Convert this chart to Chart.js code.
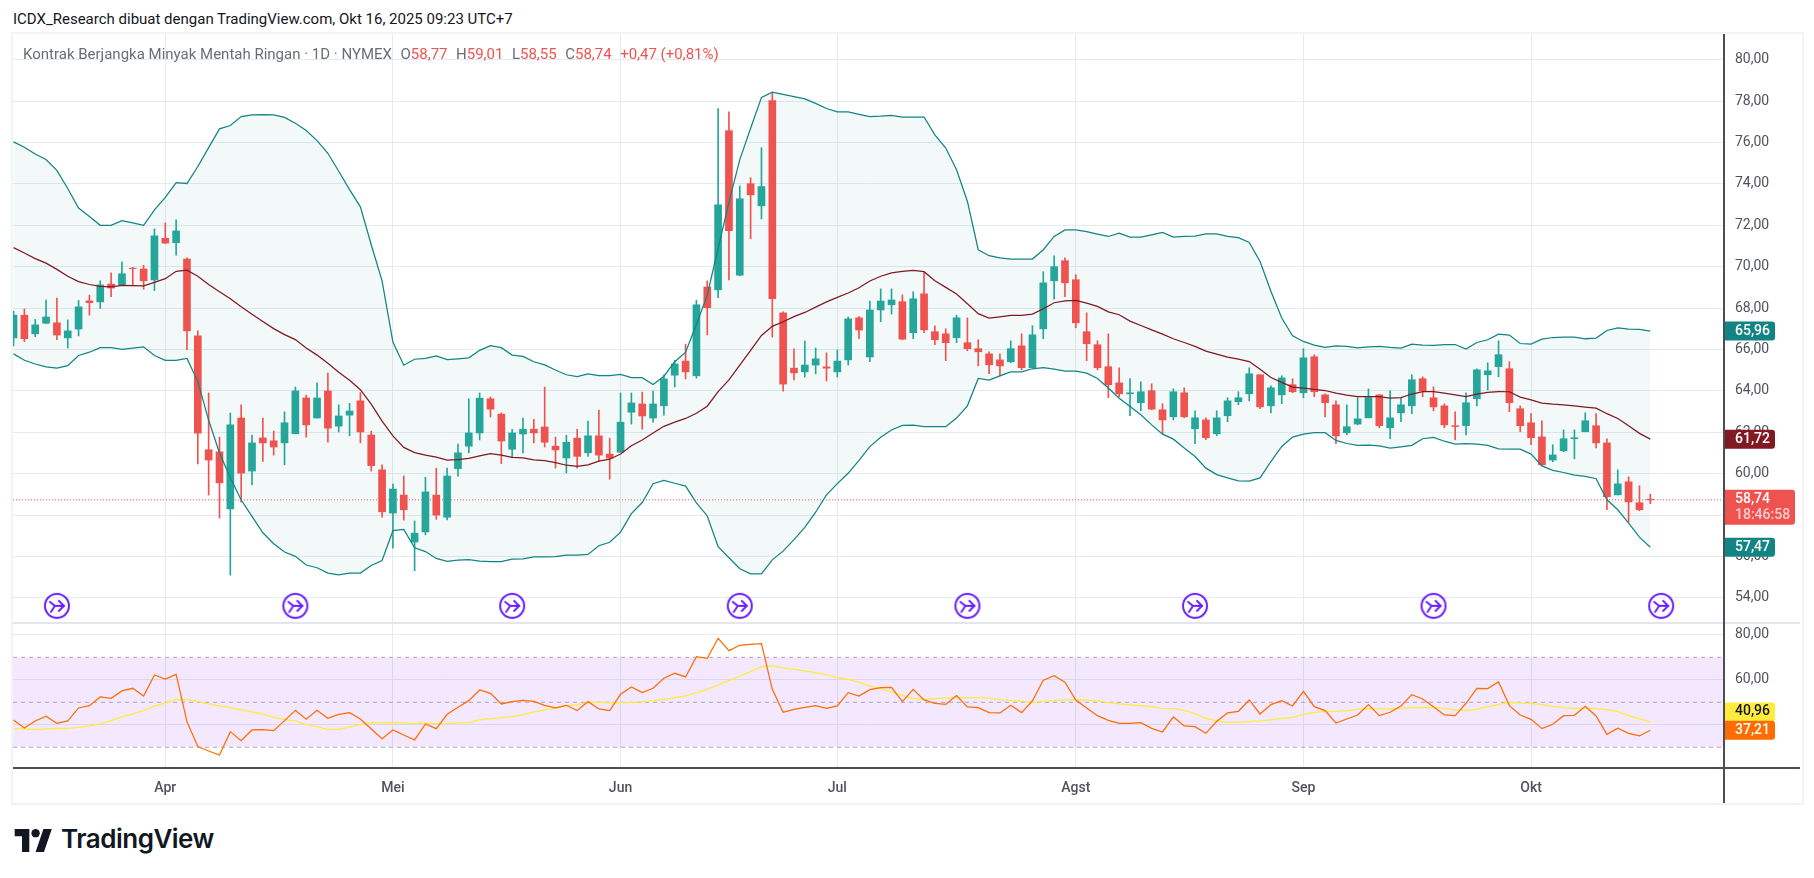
<!DOCTYPE html>
<html lang="id">
<head>
<meta charset="utf-8">
<title>Kontrak Berjangka Minyak Mentah Ringan</title>
<script src="https://cdn.jsdelivr.net/npm/chart.js@4/dist/chart.umd.min.js"></script>
<style>
  html, body { margin: 0; padding: 0; background: #fff; overflow: hidden; font-family: Roboto, sans-serif; }
  #page { position: relative; width: 1814px; height: 878px; }
  canvas { position: absolute; left: 13px; }
  #frame { position: absolute; left: 11px; top: 32px; width: 1789px; height: 769px; border: 2px solid #f1f3f6; }
  .rule { position: absolute; }
  #title { position: absolute; left: 13px; top: 10px; font-size: 15px; color: #131722; white-space: nowrap; }
  #legend { position: absolute; left: 23px; top: 45px; font-size: 15px; color: #6a6d78; white-space: nowrap; }
  #legend b { font-weight: 400; color: #ef5350; }
  #legend span { margin-left: 8.5px; }
  #logo { position: absolute; left: 14px; top: 829px; width: 39px; height: 23px; }
  #logoText { position: absolute; left: 61px; top: 823px; font: 600 26px Inter, sans-serif; letter-spacing: -0.5px; color: #131722; }
</style>
</head>
<body>
<div id="page">
  <div id="title">ICDX_Research dibuat dengan TradingView.com, Okt 16, 2025 09:23 UTC+7</div>
  <div id="frame"></div>
  <canvas id="priceChart" width="1787" height="589" style="top:34px"></canvas>
  <canvas id="rsiChart" width="1787" height="180" style="top:623px"></canvas>
  <div class="rule" style="left:13px;top:622px;width:1787px;height:2px;background:#e3e6ea"></div>
  <div class="rule" style="left:13px;top:767px;width:1787px;height:2px;background:#4a4e59"></div>
  <div class="rule" style="left:1723px;top:34px;width:2px;height:769px;background:#4a4e59"></div>
  <div id="legend">Kontrak Berjangka Minyak Mentah Ringan · 1D · NYMEX<span>O<b>58,77</b></span><span>H<b>59,01</b></span><span>L<b>58,55</b></span><span>C<b>58,74</b></span><span><b>+0,47 (+0,81%)</b></span></div>
  <svg id="logo" viewBox="0 0 36 22"><path fill="#131722" d="M14 22H7V7H0V0h14v22zM28 22h-8l7.5-22h8L28 22z"/><circle fill="#131722" cx="20" cy="4" r="4"/></svg>
  <div id="logoText">TradingView</div>
</div>
<script>
// daily candles
const open = [
  66.56,67.66,66.76,67.27,67.29,66.56,66.99,68.35,68.30,69.16,
  69.10,69.93,69.89,69.36,71.37,71.16,70.37,66.66,61.16,61.06,
  58.30,62.69,60.13,61.73,61.59,61.49,61.93,63.66,62.69,64.00,
  62.30,62.83,63.52,61.87,60.19,58.10,58.97,56.70,57.19,58.97,
  57.90,60.24,61.33,61.97,63.62,62.88,61.18,61.92,62.15,62.26,
  61.33,60.76,61.72,61.01,61.83,60.95,61.04,62.97,63.37,62.69,
  63.28,64.76,65.44,64.73,69.02,68.88,76.57,69.59,74.01,72.94,
  78.02,67.77,65.10,64.92,65.25,65.16,64.92,65.50,67.53,65.64,
  67.91,68.16,68.31,66.81,68.69,66.86,66.76,66.57,66.33,66.04,
  65.79,65.50,65.41,66.18,65.12,67.00,69.32,70.29,69.37,66.86,
  66.23,65.17,64.39,63.86,63.43,64.01,63.09,62.75,63.91,62.17,
  62.60,61.93,62.80,63.48,63.86,64.78,63.28,63.81,64.30,63.91,
  65.65,63.81,63.33,61.98,62.40,62.70,63.81,62.22,62.94,63.28,
  64.59,63.67,63.28,62.32,62.32,63.62,64.78,65.17,65.07,63.14,
  62.46,61.78,60.66,61.11,61.69,62.03,62.32,61.49,58.98,59.61,
  58.60,58.77
];
const high = [
  67.86,67.96,67.45,68.39,68.49,67.43,68.37,68.63,69.32,69.70,
  70.23,69.97,70.07,71.83,72.12,72.26,70.43,66.90,63.90,61.77,
  62.93,63.33,61.87,62.69,62.06,62.99,64.19,63.80,64.39,64.86,
  63.33,63.40,63.92,62.06,60.43,59.50,59.89,57.72,59.83,60.27,
  60.27,61.43,63.62,63.90,63.71,62.94,62.15,62.69,62.63,64.19,
  61.77,61.86,62.15,62.54,63.08,61.72,63.90,63.90,63.94,63.99,
  64.76,65.48,66.26,68.38,69.32,77.64,77.48,73.90,74.30,75.75,
  78.39,67.82,66.03,66.41,66.07,65.84,65.98,67.57,67.59,68.34,
  68.93,68.93,68.64,68.79,69.72,67.15,67.00,67.66,67.53,66.47,
  65.89,65.79,66.42,66.76,67.15,69.76,70.53,70.43,69.61,67.77,
  66.42,66.76,65.12,64.59,64.44,64.34,63.38,64.10,64.15,63.04,
  62.70,63.04,63.67,63.96,65.12,64.78,64.25,64.73,64.59,66.04,
  65.75,63.86,63.52,63.33,63.67,64.10,63.81,64.01,63.67,64.78,
  64.68,64.20,63.38,62.99,63.91,65.07,65.36,66.42,65.41,63.28,
  62.90,62.56,61.40,62.12,62.12,62.94,62.90,61.69,60.19,59.85,
  59.42,59.01
];
const low = [
  66.17,66.38,66.62,67.25,66.48,66.07,66.66,67.66,67.98,68.55,
  69.08,69.08,68.91,68.85,71.12,70.56,65.99,60.47,58.97,57.86,
  55.10,58.63,59.46,60.60,60.90,60.43,61.93,61.77,62.69,61.53,
  62.02,61.83,61.49,60.13,57.90,56.40,57.76,55.32,57.05,57.80,
  57.77,59.88,61.01,61.63,62.74,60.49,60.77,61.01,61.49,61.29,
  60.27,60.04,60.27,60.84,60.61,59.74,61.04,62.40,62.15,62.49,
  62.83,64.19,64.58,64.62,66.71,68.50,69.36,69.56,71.35,72.31,
  66.60,63.99,64.53,64.67,64.82,64.48,64.67,65.25,66.52,65.41,
  67.34,67.71,66.47,66.52,66.81,66.23,65.46,66.33,65.94,65.21,
  64.83,64.73,65.36,65.02,65.12,66.52,68.43,68.55,67.05,65.46,
  65.02,63.67,63.72,62.80,63.04,63.09,61.93,62.60,62.70,61.45,
  61.64,61.83,62.51,63.33,63.52,63.14,62.94,63.38,63.91,63.67,
  63.72,62.75,61.45,61.88,62.36,62.70,62.22,61.69,62.51,62.90,
  63.72,63.04,62.22,61.64,61.88,63.28,64.05,64.68,63.00,62.03,
  61.40,60.43,60.58,61.06,60.72,62.03,61.25,58.26,58.98,57.68,
  58.21,58.55
];
const close = [
  67.66,66.52,67.19,67.57,66.70,66.90,68.06,68.26,69.12,68.97,
  69.66,69.91,69.32,71.49,71.14,71.73,66.90,61.96,60.66,59.56,
  62.36,60.03,61.49,61.49,61.29,62.46,64.00,62.36,63.66,62.20,
  62.79,63.03,62.02,60.39,58.16,59.26,58.26,57.13,59.12,58.00,
  59.89,61.01,61.97,63.65,63.12,61.58,61.97,62.15,61.97,61.52,
  61.15,61.52,60.84,61.83,60.90,60.76,62.49,63.42,62.79,63.37,
  64.58,65.30,64.92,68.16,68.02,72.99,71.74,73.28,73.47,73.87,
  68.45,64.33,64.87,65.25,65.55,65.10,65.44,67.48,66.94,67.91,
  68.34,68.39,66.50,68.45,66.95,66.47,66.33,67.53,66.04,65.89,
  65.26,65.21,66.04,65.12,66.71,69.22,70.00,69.22,67.29,66.28,
  65.12,64.30,63.86,63.91,63.96,63.12,62.60,63.96,62.75,62.70,
  61.74,62.70,63.52,63.67,64.83,63.23,64.15,64.63,63.96,65.60,
  63.96,63.43,61.83,62.27,62.65,63.68,62.32,62.70,63.33,64.54,
  64.00,63.23,62.36,62.28,63.43,65.02,64.97,65.75,63.43,62.32,
  61.74,60.43,60.91,61.69,61.74,62.56,61.49,58.89,59.51,58.64,
  58.26,58.74
];
// bollinger bands
const bbUpper = [
  76.03,75.77,75.44,75.18,74.65,73.78,72.83,72.42,72.00,72.00,
  72.22,72.12,72.00,72.75,73.35,74.06,74.02,74.84,75.75,76.66,
  76.82,77.25,77.33,77.35,77.33,77.21,76.93,76.58,76.09,75.48,
  74.61,73.72,72.89,71.06,69.32,66.36,65.24,65.53,65.57,65.69,
  65.51,65.55,65.60,65.96,66.19,66.09,65.73,65.67,65.41,65.26,
  65.01,64.78,64.69,64.82,64.74,64.74,64.80,64.64,64.64,64.31,
  64.71,65.41,65.87,67.21,68.64,70.88,73.12,75.17,76.69,78.18,
  78.43,78.32,78.21,78.11,77.89,77.64,77.48,77.48,77.36,77.25,
  77.27,77.31,77.23,77.23,77.23,76.37,75.73,74.68,73.15,70.82,
  70.53,70.43,70.37,70.37,70.37,70.82,71.46,71.78,71.78,71.69,
  71.57,71.46,71.62,71.43,71.43,71.54,71.66,71.43,71.46,71.48,
  71.59,71.59,71.46,71.40,71.17,70.25,68.81,67.52,66.66,66.39,
  66.21,66.10,66.18,66.15,66.08,66.13,66.15,66.10,66.07,66.26,
  66.21,66.20,66.24,66.24,66.02,66.34,66.47,66.74,66.70,66.29,
  66.26,66.50,66.58,66.60,66.60,66.52,66.55,66.92,67.05,66.99,
  66.97,66.89
];
const bbMiddle = [
  70.92,70.66,70.39,70.17,69.87,69.54,69.28,69.14,69.05,69.03,
  69.10,69.08,69.07,69.24,69.42,69.78,69.83,69.54,69.14,68.79,
  68.45,68.06,67.70,67.35,67.01,66.72,66.48,66.07,65.73,65.34,
  64.90,64.51,64.06,63.36,62.54,61.83,61.27,61.02,60.90,60.80,
  60.66,60.68,60.74,60.86,60.97,60.90,60.79,60.77,60.67,60.63,
  60.54,60.41,60.36,60.43,60.61,60.70,60.95,61.35,61.63,61.97,
  62.29,62.49,62.67,62.92,63.26,63.97,64.53,65.25,65.96,66.68,
  67.12,67.34,67.59,67.79,68.05,68.30,68.52,68.73,68.98,69.31,
  69.54,69.70,69.77,69.82,69.76,69.32,69.00,68.68,68.21,67.73,
  67.52,67.58,67.65,67.65,67.71,67.97,68.26,68.35,68.37,68.24,
  68.08,67.82,67.68,67.37,67.16,66.95,66.74,66.52,66.34,66.15,
  65.92,65.78,65.63,65.54,65.42,65.05,64.65,64.41,64.18,64.14,
  64.07,64.02,63.89,63.80,63.73,63.72,63.72,63.65,63.68,63.85,
  63.96,63.97,63.89,63.81,63.73,63.85,63.93,63.97,63.96,63.70,
  63.57,63.41,63.36,63.33,63.28,63.22,63.17,62.90,62.67,62.32,
  61.95,61.67
];
const bbLower = [
  65.79,65.48,65.30,65.16,65.10,65.22,65.71,65.87,66.09,66.09,
  66.01,66.07,66.13,65.71,65.48,65.48,65.57,64.45,62.58,61.00,
  59.81,58.73,57.94,57.15,56.62,56.22,56.01,55.59,55.46,55.20,
  55.12,55.20,55.20,55.57,55.81,57.25,57.31,56.42,56.24,55.91,
  55.77,55.83,55.85,55.78,55.76,55.76,55.87,55.89,55.98,55.98,
  56.00,56.07,56.07,56.10,56.52,56.69,57.18,58.07,58.61,59.52,
  59.68,59.54,59.40,58.59,57.96,56.48,55.94,55.41,55.16,55.16,
  55.84,56.26,56.82,57.41,58.14,58.98,59.52,60.02,60.65,61.31,
  61.76,62.11,62.33,62.35,62.27,62.28,62.27,62.69,63.28,64.60,
  64.52,64.73,64.92,64.92,65.07,65.12,65.05,64.96,64.96,64.86,
  64.60,64.14,63.65,63.25,62.85,62.36,61.91,61.67,61.24,60.83,
  60.27,59.96,59.80,59.66,59.64,59.80,60.59,61.32,61.77,61.91,
  61.98,61.98,61.61,61.46,61.37,61.38,61.35,61.24,61.30,61.37,
  61.69,61.75,61.57,61.43,61.46,61.43,61.37,61.20,61.19,61.19,
  60.95,60.38,60.16,60.06,59.93,59.87,59.76,58.74,58.26,57.61,
  56.94,56.45
];
// rsi and its moving average
const rsi = [
  42.15,38.59,41.70,43.78,40.67,41.70,47.48,48.52,52.37,51.78,
  55.04,56.22,52.81,62.15,60.37,62.44,41.41,30.30,28.37,26.59,
  36.96,32.96,37.70,37.85,37.41,41.85,46.44,42.44,46.44,42.89,
  44.67,45.41,42.59,38.15,33.85,37.70,35.48,33.26,40.37,38.30,
  44.67,47.78,50.74,55.48,54.00,49.26,50.30,50.89,50.44,48.67,
  47.48,48.67,46.30,50.30,47.04,46.30,53.56,56.81,54.30,56.22,
  60.67,62.89,61.26,70.30,69.56,78.44,72.96,75.33,75.78,76.07,
  55.78,45.56,46.89,47.78,48.52,47.33,48.37,54.30,52.81,55.63,
  56.52,56.67,50.30,55.78,51.04,49.56,49.11,52.96,47.93,47.63,
  45.41,45.26,48.67,45.41,50.59,59.78,61.85,58.89,51.04,47.48,
  44.07,42.00,40.67,40.67,40.96,38.44,36.81,43.48,39.48,39.19,
  36.22,41.56,45.26,46.00,51.04,44.81,48.96,50.74,48.37,54.89,
  48.07,46.30,40.81,42.59,44.37,48.96,44.07,45.56,48.37,53.41,
  51.48,48.07,44.37,44.07,49.56,56.22,56.07,59.04,48.52,44.37,
  42.44,38.30,40.22,44.07,44.22,48.22,43.93,35.78,38.44,36.22,
  35.04,37.56
];
const rsiMa = [
  38.30,38.15,37.85,38.15,38.44,38.44,38.89,39.48,40.37,41.85,
  43.48,44.81,46.30,48.37,49.56,51.33,51.19,50.30,49.26,48.37,
  47.63,46.59,45.70,44.81,43.33,42.30,41.70,40.07,39.19,37.85,
  38.00,39.04,40.07,40.96,40.81,40.96,40.81,40.52,40.81,40.37,
  40.52,40.81,41.11,42.15,42.74,43.19,43.63,44.52,45.70,46.59,
  47.33,48.52,48.96,50.00,50.00,49.85,49.85,50.00,50.15,50.59,
  51.33,52.07,52.81,54.30,55.78,57.70,59.63,61.56,63.63,65.85,
  66.15,65.26,64.67,63.93,63.19,62.15,61.11,60.22,58.89,57.26,
  56.07,54.59,53.11,51.63,51.19,51.63,51.93,52.07,52.07,52.07,
  51.78,51.19,50.89,50.44,50.00,50.30,50.89,51.04,51.19,51.04,
  50.59,49.85,49.26,48.81,48.52,48.07,47.33,47.19,46.44,44.96,
  42.89,41.70,41.11,41.11,41.41,41.70,42.15,42.89,43.33,44.67,
  45.56,45.85,46.00,46.30,46.89,47.19,47.19,47.04,47.33,47.63,
  47.78,47.63,47.33,46.59,46.44,46.89,47.93,49.11,50.00,49.70,
  49.56,48.96,48.22,47.63,47.33,47.33,47.19,46.74,45.85,44.07,
  42.59,41.26
];
// month ticks sit on the first trading day of each month
const monthIndex = [14, 35, 56, 76, 98, 119, 140];
const monthLabels = ['Apr', 'Mei', 'Jun', 'Jul', 'Agst', 'Sep', 'Okt'];
const priceTicks = [54, 56, 58, 60, 62, 64, 66, 68, 70, 72, 74, 76, 78, 80];
const rsiTicks = [40, 60, 80];
const rsiLevels = [70, 50, 30];
const expiryIndex = [4, 26, 46, 67, 88, 109, 131, 152];
const expiryLevel = [53.62, 53.62, 53.62, 53.62, 53.62, 53.62, 53.62, 53.62];
const lastPrice = [58.74];

const UP = '#26a69a', DOWN = '#ef5350', BAND = '#138484', BASIS = '#801922';
const GRID = '#e3ebf1';
const xMin = -0.05, xMax = 157.8;

Chart.defaults.font.family = 'Roboto, sans-serif';
Chart.defaults.font.size = 14;
Chart.defaults.color = '#50535e';
Chart.defaults.animation = false;

const toPoints = (arr) => arr.map((y, i) => ({ x: i, y: y }));
const comma = (v) => Number(v).toFixed(2).replace('.', ',');
const candleColor = open.map((o, i) => (close[i] >= o ? UP : DOWN));

// price labels on the axis, placed through the y scale
function axisChips(items) {
  return {
    id: 'axisChips',
    afterDraw(chart) {
      const ctx = chart.ctx, x = chart.chartArea.right, scale = chart.scales.y;
      ctx.save();
      items.forEach((c) => {
        const y = scale.getPixelForValue(c.value) + (c.shift || 0);
        const h = c.sub ? 35 : 19, w = c.sub ? 71 : 51;
        const top = c.sub ? y - 10 : y - h / 2;
        ctx.fillStyle = c.color;
        ctx.beginPath();
        ctx.roundRect(x, top, w, h, [0, 3, 3, 0]);
        ctx.fill();
        ctx.fillStyle = c.text;
        ctx.font = '500 14px Roboto, sans-serif';
        ctx.textBaseline = 'middle';
        ctx.textAlign = 'left';
        ctx.fillText(c.label, x + 11, top + 9.5);
        if (c.sub) {
          ctx.fillStyle = 'rgba(255,255,255,0.7)';
          ctx.fillText(c.sub, x + 11, top + 25.5);
        }
      });
      ctx.restore();
    }
  };
}

function expiryIcon() {
  const c = document.createElement('canvas');
  c.width = 28; c.height = 28;
  const g = c.getContext('2d');
  g.strokeStyle = '#6a1fff';
  g.lineWidth = 2;
  g.beginPath(); g.arc(14, 14, 12, 0, Math.PI * 2); g.stroke();
  g.lineCap = 'round';
  g.beginPath(); g.moveTo(7, 10); g.lineTo(12, 14); g.lineTo(21, 14); g.stroke();
  g.beginPath(); g.moveTo(16, 9); g.lineTo(21, 14); g.lineTo(16, 19); g.stroke();
  g.beginPath(); g.moveTo(12, 14); g.lineTo(8, 20); g.stroke();
  return c;
}

// scales measure label overhang and inset the plot, the panes here are edge to edge
function noInset(s) {
  s.paddingLeft = s.paddingRight = s.paddingTop = s.paddingBottom = 0;
}

function xScale(showLabels) {
  return {
    type: 'linear', min: xMin, max: xMax, offset: false,
    afterBuildTicks: (s) => { s.ticks = monthIndex.map((v) => ({ value: v })); },
    afterFit: (s) => { s.height = showLabels ? 35 : 0; noInset(s); },
    grid: { color: GRID, offset: false, drawTicks: false },
    border: { display: false },
    ticks: {
      display: showLabels, autoSkip: false, maxRotation: 0, padding: 12,
      font: { size: 14, weight: '500' },
      callback: (v) => monthLabels[monthIndex.indexOf(v)]
    }
  };
}

function yScale(min, max, ticks) {
  return {
    position: 'right', min: min, max: max,
    afterBuildTicks: (s) => { s.ticks = ticks.map((v) => ({ value: v })); },
    afterFit: (s) => { s.width = 76; noInset(s); },
    grid: { color: GRID, drawTicks: false },
    border: { display: false },
    ticks: { autoSkip: false, padding: 11, callback: comma }
  };
}

const lineSet = (data, color, extra) => Object.assign({
  type: 'line', data: toPoints(data), borderColor: color, borderWidth: 1.25,
  pointRadius: 0, tension: 0, fill: false, order: 1
}, extra);

new Chart(document.getElementById('priceChart'), {
  type: 'bar',
  data: {
    datasets: [
      lineSet(bbUpper, BAND, { fill: '+1', backgroundColor: 'rgba(19,132,132,0.05)' }),
      lineSet(bbLower, BAND),
      lineSet(bbMiddle, BASIS),
      {
        type: 'line',
        data: [{ x: xMin, y: lastPrice[0] }, { x: xMax, y: lastPrice[0] }],
        borderColor: DOWN, borderWidth: 1, borderDash: [1, 2], pointRadius: 0, order: 4
      },
      {
        type: 'scatter',
        data: expiryIndex.map((x, i) => ({ x: x, y: expiryLevel[i] })),
        pointStyle: expiryIcon(), pointRadius: 14, order: 0
      },
      {
        data: low.map((l, i) => ({ x: i, y: [l, high[i]] })),
        backgroundColor: candleColor, barThickness: 1, grouped: false, order: 3
      },
      {
        data: open.map((o, i) => ({ x: i, y: [o, close[i]] })),
        backgroundColor: candleColor, barThickness: 7, grouped: false, order: 2
      }
    ]
  },
  options: {
    responsive: false,
    layout: { padding: 0, autoPadding: false },
    scales: { x: xScale(false), y: yScale(52.79, 81.24, priceTicks) },
    plugins: {
      legend: { display: false },
      tooltip: { enabled: false },
      filler: { drawTime: 'beforeDatasetsDraw' }
    }
  },
  plugins: [axisChips([
    { value: bbUpper[151], label: '65,96', color: BAND, text: '#fff' },
    { value: bbMiddle[151], label: '61,72', color: BASIS, text: '#fff' },
    { value: bbLower[151], label: '57,47', color: BAND, text: '#fff' },
    { value: lastPrice[0], label: '58,74', sub: '18:46:58', color: DOWN, text: '#fff' }
  ])]
});

new Chart(document.getElementById('rsiChart'), {
  type: 'line',
  data: {
    datasets: [
      // band fill and the three dashed levels
      ...rsiLevels.map((lv, n) => ({
        data: [{ x: xMin, y: lv }, { x: xMax, y: lv }],
        borderColor: '#b2aeb8', borderWidth: 1, borderDash: [4, 4], pointRadius: 0,
        fill: n === 0 ? '+2' : false, backgroundColor: 'rgba(159,63,236,0.12)', order: 5
      })),
      lineSet(rsiMa, '#ffeb3b', { order: 2 }),
      lineSet(rsi, '#ff6d00', { order: 1 })
    ]
  },
  options: {
    responsive: false,
    layout: { padding: 0, autoPadding: false },
    scales: { x: xScale(true), y: yScale(20.8, 85.24, rsiTicks) },
    plugins: {
      legend: { display: false },
      tooltip: { enabled: false }
    }
  },
  plugins: [axisChips([
    { value: rsiMa[151], shift: -10, label: '40,96', color: '#ffeb3b', text: '#131722' },
    { value: rsi[151], label: '37,21', color: '#ff6d00', text: '#fff' }
  ])]
});
</script>
</body>
</html>
